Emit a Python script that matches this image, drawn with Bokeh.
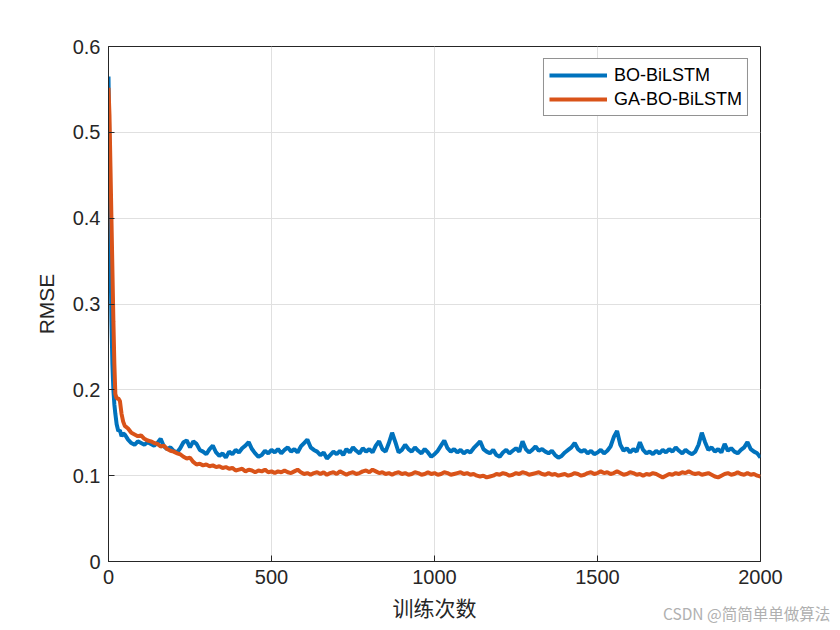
from bokeh.plotting import figure
from bokeh.models import Range1d, FixedTicker, CustomJSTickFormatter, Legend, LegendItem, Div
from bokeh.layouts import column
from bokeh.embed import file_html
from bokeh.resources import INLINE

# iterations: dense at the start, then every 10 steps
early_iters = [0, 3, 6, 9, 12, 15, 18, 21, 25, 30, 35, 40, 45]
later_iters = list(range(50, 2001, 10))

bo_early = [0.565, 0.47, 0.36, 0.28, 0.23, 0.20, 0.183, 0.172, 0.16, 0.152, 0.153, 0.146, 0.149]
bo_later = [
    0.148, 0.142, 0.138, 0.136, 0.140, 0.138, 0.136, 0.139, 0.137, 0.135,
    0.138, 0.143, 0.134, 0.131, 0.133, 0.129, 0.127, 0.132, 0.139, 0.141,
    0.133, 0.140, 0.137, 0.130, 0.128, 0.125, 0.131, 0.135, 0.127, 0.123,
    0.126, 0.121, 0.128, 0.125, 0.130, 0.127, 0.132, 0.135, 0.139, 0.131,
    0.126, 0.122, 0.124, 0.129, 0.126, 0.130, 0.127, 0.131, 0.126, 0.130,
    0.133, 0.128, 0.131, 0.127, 0.134, 0.138, 0.142, 0.133, 0.130, 0.128,
    0.124, 0.127, 0.120, 0.124, 0.128, 0.125, 0.129, 0.124, 0.131, 0.127,
    0.133, 0.129, 0.126, 0.132, 0.128, 0.131, 0.127, 0.135, 0.140, 0.131,
    0.128, 0.138, 0.150, 0.139, 0.127, 0.130, 0.136, 0.131, 0.128, 0.133,
    0.129, 0.126, 0.131, 0.127, 0.122, 0.125, 0.129, 0.135, 0.141, 0.132,
    0.128, 0.131, 0.127, 0.130, 0.126, 0.129, 0.127, 0.132, 0.136, 0.140,
    0.131, 0.128, 0.126, 0.130, 0.124, 0.122, 0.127, 0.130, 0.126, 0.129,
    0.132, 0.128, 0.140, 0.131, 0.127, 0.130, 0.134, 0.129, 0.131, 0.128,
    0.126, 0.129, 0.124, 0.121, 0.123, 0.127, 0.130, 0.133, 0.138, 0.131,
    0.128, 0.130, 0.126, 0.129, 0.125, 0.127, 0.130, 0.126, 0.129, 0.134,
    0.145, 0.152, 0.136, 0.129, 0.132, 0.127, 0.131, 0.128, 0.139, 0.130,
    0.126, 0.128, 0.125, 0.129, 0.126, 0.130, 0.127, 0.131, 0.128, 0.133,
    0.129, 0.126, 0.130, 0.127, 0.125, 0.128, 0.136, 0.150, 0.139, 0.130,
    0.133, 0.128, 0.131, 0.127, 0.137, 0.129, 0.132, 0.128, 0.126, 0.130,
    0.133, 0.139, 0.131, 0.128, 0.126, 0.121,
]

ga_early = [0.552, 0.52, 0.46, 0.40, 0.34, 0.28, 0.23, 0.195, 0.19, 0.19, 0.187, 0.172, 0.163]
ga_later = [
    0.158, 0.155, 0.150, 0.148, 0.146, 0.147, 0.143, 0.141, 0.140, 0.138,
    0.137, 0.134, 0.135, 0.131, 0.129, 0.128, 0.126, 0.125, 0.122, 0.120,
    0.121, 0.116, 0.113, 0.114, 0.112, 0.113, 0.111, 0.112, 0.110, 0.111,
    0.109, 0.110, 0.108, 0.109, 0.106, 0.107, 0.108, 0.105, 0.107, 0.106,
    0.104, 0.106, 0.105, 0.107, 0.104, 0.105, 0.103, 0.105, 0.104, 0.106,
    0.104, 0.103, 0.105, 0.107, 0.104, 0.102, 0.103, 0.101, 0.103, 0.104,
    0.102, 0.104, 0.101, 0.103, 0.104, 0.102, 0.105, 0.103, 0.101, 0.103,
    0.104, 0.102, 0.103, 0.105, 0.106, 0.104, 0.107, 0.105, 0.103, 0.104,
    0.102, 0.103, 0.101, 0.103, 0.104, 0.102, 0.103, 0.101, 0.102, 0.104,
    0.103, 0.101, 0.102, 0.104, 0.102, 0.103, 0.101, 0.102, 0.104, 0.103,
    0.101, 0.102, 0.103, 0.104, 0.102, 0.103, 0.101, 0.102, 0.100, 0.099,
    0.100, 0.098, 0.099, 0.100, 0.102, 0.101, 0.103, 0.102, 0.100, 0.101,
    0.103, 0.102, 0.104, 0.103, 0.101, 0.102, 0.103, 0.104, 0.102, 0.101,
    0.103, 0.101, 0.102, 0.100, 0.101, 0.102, 0.100, 0.101, 0.103, 0.102,
    0.100, 0.101, 0.103, 0.104, 0.102, 0.103, 0.105, 0.103, 0.104, 0.102,
    0.103, 0.105, 0.103, 0.101, 0.102, 0.104, 0.103, 0.101, 0.102, 0.100,
    0.102, 0.101, 0.103, 0.102, 0.100, 0.098, 0.100, 0.102, 0.101, 0.103,
    0.102, 0.104, 0.103, 0.105, 0.103, 0.102, 0.103, 0.101, 0.102, 0.103,
    0.101, 0.099, 0.098, 0.100, 0.102, 0.103, 0.101, 0.102, 0.104, 0.102,
    0.101, 0.103, 0.101, 0.102, 0.100, 0.099,
]

x_ticks = [0, 500, 1000, 1500, 2000]
y_ticks = [0, 0.1, 0.2, 0.3, 0.4, 0.5, 0.6]

iters = early_iters + later_iters
bo = bo_early + bo_later
ga = ga_early + ga_later

font = "Liberation Sans"
ink = "#262626"

p = figure(frame_width=652, frame_height=515, output_backend="svg", toolbar_location=None,
           x_range=Range1d(0, 2000), y_range=Range1d(0, 0.6),
           min_border_left=108, min_border_top=46, min_border_right=64, min_border_bottom=60)
p.background_fill_color = "white"
p.border_fill_color = "white"
p.outline_line_color = ink
p.outline_line_width = 1

for ax in (p.xaxis[0], p.yaxis[0]):
    ax.axis_line_color = ink
    ax.major_tick_line_color = ink
    ax.major_tick_in = 6
    ax.major_tick_out = 0
    ax.minor_tick_line_color = None
    ax.major_label_text_font = font
    ax.major_label_text_font_size = "20px"
    ax.major_label_text_color = ink
    ax.axis_label_text_font_style = "normal"
    ax.axis_label_text_color = ink

p.xaxis.ticker = FixedTicker(ticks=x_ticks)
p.yaxis.ticker = FixedTicker(ticks=y_ticks)
p.yaxis.formatter = CustomJSTickFormatter(code="return tick.toFixed(1).replace(/\\.0$/, '');")
p.xaxis.major_label_standoff = 8
p.xaxis.axis_label = "训练次数"
p.xaxis.axis_label_text_font = "Noto Sans CJK SC"
p.xaxis.axis_label_text_font_size = "21px"
p.xaxis.axis_label_standoff = 5
p.yaxis.major_label_standoff = 8
p.yaxis.axis_label = "RMSE"
p.yaxis.axis_label_text_font = font
p.yaxis.axis_label_text_font_size = "21px"
p.yaxis.axis_label_standoff = 12

p.grid.grid_line_color = "#e0e0e0"
p.grid.grid_line_width = 1

r_bo = p.line(iters, bo, line_color="#0072BD", line_width=4)
r_ga = p.line(iters, ga, line_color="#D95319", line_width=4)

legend = Legend(items=[LegendItem(label="BO-BiLSTM", renderers=[r_bo]),
                       LegendItem(label="GA-BO-BiLSTM", renderers=[r_ga])],
                location="top_right", margin=12, padding=5, spacing=2,
                glyph_width=58, glyph_height=22, label_standoff=7,
                label_text_font=font, label_text_font_size="18px", label_text_color="black",
                border_line_color=ink, border_line_width=1, background_fill_alpha=1)
p.add_layout(legend)

# watermark under the plot, bottom right (annotations get clipped to the frame)
mark = Div(text="<span style=\"color:#b0b0b0;font-family:'Noto Sans CJK SC';font-size:15.5px;"
                "white-space:nowrap\">CSDN @简简单单做算法</span>",
           width=175, height=20, margin=(-22, 0, 0, 663))

layout = column(p, mark)
open("out.html", "w").write(file_html(layout, INLINE))
